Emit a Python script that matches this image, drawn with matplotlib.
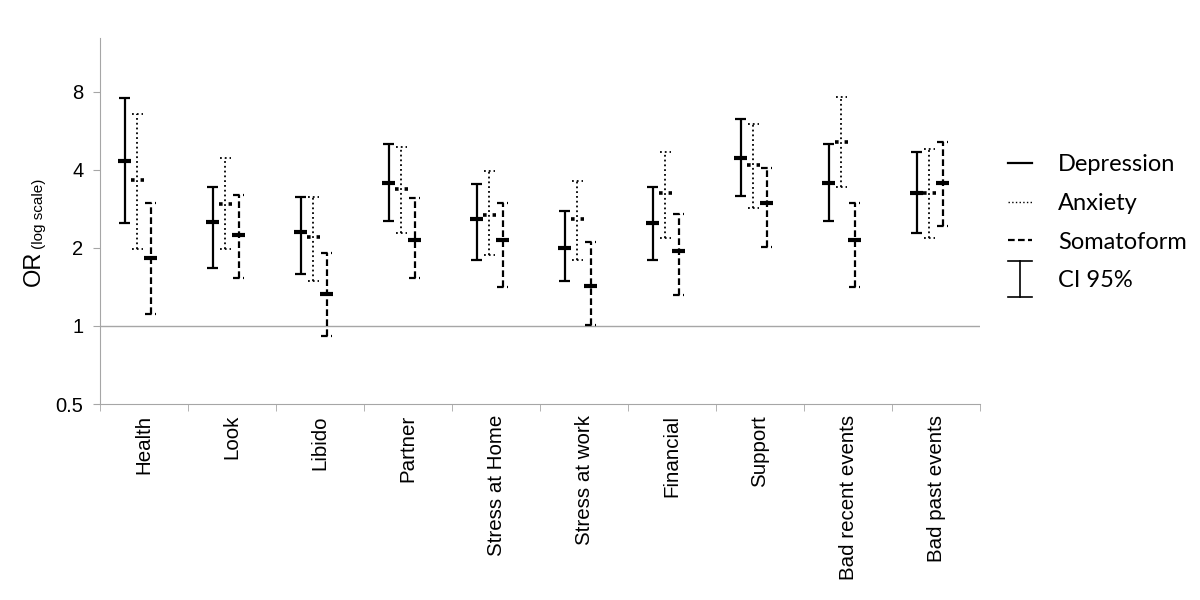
import numpy as np
import matplotlib
matplotlib.use("Agg")
import matplotlib.pyplot as plt
from matplotlib.lines import Line2D
from matplotlib.legend_handler import HandlerBase

categories = ["Health", "Look", "Libido", "Partner", "Stress at Home",
              "Stress at work", "Financial", "Support", "Bad recent events",
              "Bad past events"]

# odds ratio, lower and upper 95% CI
dep_or = [4.33, 2.51, 2.30, 3.56, 2.58, 2.00, 2.50, 4.45, 3.56, 3.26]
dep_lo = [2.49, 1.67, 1.585, 2.54, 1.795, 1.49, 1.795, 3.16, 2.55, 2.29]
dep_hi = [7.54, 3.44, 3.15, 5.01, 3.52, 2.77, 3.44, 6.27, 5.01, 4.67]

anx_or = [3.65, 2.96, 2.21, 3.36, 2.69, 2.58, 3.26, 4.16, 5.13, 3.26]
anx_lo = [1.98, 1.98, 1.49, 2.28, 1.87, 1.795, 2.19, 2.85, 3.44, 2.19]
anx_hi = [6.56, 4.43, 3.15, 4.88, 3.95, 3.63, 4.67, 6.00, 7.65, 4.82]

som_or = [1.83, 2.24, 1.33, 2.15, 2.15, 1.425, 1.95, 2.97, 2.15, 3.56]
som_lo = [1.11, 1.525, 0.917, 1.525, 1.416, 1.008, 1.32, 2.01, 1.416, 2.42]
som_hi = [2.98, 3.20, 1.905, 3.11, 2.98, 2.11, 2.71, 4.07, 2.98, 5.10]

y_ticks = [0.5, 1, 2, 4, 8]

plt.rcParams["font.family"] = ["Liberation Sans", "DejaVu Sans"]

fig = plt.figure(figsize=(12, 6), dpi=100)
ax = fig.add_axes([100 / 1200, 1 - 404 / 600, 880 / 1200, 366 / 600])

x = np.arange(len(categories))
cap = 0.065
series = [
    (dep_or, dep_lo, dep_hi, -0.22, "-", "-", 1.6, 3),
    (anx_or, anx_lo, anx_hi, -0.074, ":", ":", 1.3, 2.6),
    (som_or, som_lo, som_hi, 0.074, (0, (3, 1.5)), "-", 1.6, 3),
]
for vals, lo, hi, off, ls, mls, lw, mlw in series:
    xs = x + off
    ax.vlines(xs, lo, hi, colors="black", linestyles=ls, linewidth=lw)
    ax.hlines(lo, xs - cap, xs + cap, colors="black", linestyles=ls, linewidth=lw)
    ax.hlines(hi, xs - cap, xs + cap, colors="black", linestyles=ls, linewidth=lw)
    ax.hlines(vals, xs - 0.075, xs + 0.075, colors="black", linestyles=mls, linewidth=mlw)

ax.axhline(1, color="#a6a6a6", linewidth=1, zorder=0)

ax.set_yscale("log")
ax.set_ylim(0.5, 12.9)
ax.set_yticks(y_ticks)
ax.set_yticklabels(["0.5", "1", "2", "4", "8"])
ax.yaxis.set_minor_locator(plt.NullLocator())
ax.set_xlim(-0.5, len(categories) - 0.5)
ax.set_xticks(x)
ax.set_xticklabels(categories, rotation=90, fontsize=14.8)
ax.set_xticks(np.arange(len(categories) + 1) - 0.5, minor=True)
ax.tick_params(axis="x", which="major", length=0, pad=8)
ax.tick_params(axis="x", which="minor", length=5, color="#a6a6a6", direction="out")
ax.tick_params(axis="y", length=5, color="#a6a6a6", labelsize=14.5, pad=7)

for s in ["top", "right"]:
    ax.spines[s].set_visible(False)
for s in ["left", "bottom"]:
    ax.spines[s].set_color("#a6a6a6")

fig.text(34 / 1200, 1 - 268 / 600, "OR", rotation=90, fontsize=17,
         ha="center", va="center")
fig.text(39 / 1200, 1 - 214 / 600, "(log scale)", rotation=90, fontsize=11,
         ha="center", va="center")


class CIHandler(HandlerBase):
    def create_artists(self, legend, orig_handle, xdescent, ydescent,
                       width, height, fontsize, trans):
        cx = width / 2 - xdescent
        cy = height / 2 - ydescent
        h = 13
        w = width / 2
        arts = [
            Line2D([cx, cx], [cy - h, cy + h]),
            Line2D([cx - w, cx + w], [cy - h, cy - h]),
            Line2D([cx - w, cx + w], [cy + h, cy + h]),
        ]
        for a in arts:
            a.set_color("black")
            a.set_linewidth(1.2)
            a.set_transform(trans)
        return arts


handles = [
    Line2D([], [], color="black", linestyle="-", linewidth=1.6),
    Line2D([], [], color="black", linestyle=":", linewidth=1.0),
    Line2D([], [], color="black", linestyle=(0, (3, 1.5)), linewidth=1.6),
    "ci",
]
labels = ["Depression", "Anxiety", "Somatoform", "CI 95%"]
leg = fig.legend(handles, labels, loc="upper left",
                 bbox_to_anchor=(987 / 1200, 1 - 133 / 600),
                 frameon=False, handlelength=1.0, handletextpad=1.1,
                 labelspacing=0.75, prop={"family": "Lato", "size": 17},
                 handler_map={str: CIHandler()})

fig.savefig("out.png", dpi=100)
